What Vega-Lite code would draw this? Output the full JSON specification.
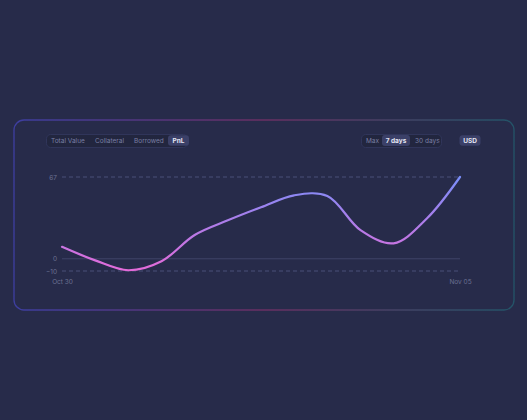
{
  "$schema": "https://vega.github.io/schema/vega-lite/v6.json",
  "width": 500,
  "height": 190,
  "autosize": {"type": "none"},
  "padding": {"left": 14, "top": 120, "right": 13, "bottom": 110},
  "background": "#272b4a",
  "config": {
    "view": {"stroke": null},
    "font": "Inter",
    "axisX": {"offset": -34, "domain": false, "ticks": false, "grid": false, "labelPadding": 2, "labelFontSize": 6.5, "labelColor": "#6c7192", "labelFont": "Inter", "labelFlush": false},
    "axisY": {"offset": -48, "domain": false, "ticks": false, "grid": false, "labelPadding": 5.5, "labelFontSize": 6.5, "labelColor": "#6c7192", "labelFont": "Inter"}
  },
  "datasets": {
    "series": [
      {"date": "2024-10-30T00:00:00", "value": 9.8},
      {"date": "2024-10-30T12:00:00", "value": -1.3},
      {"date": "2024-10-31T00:00:00", "value": -9.4},
      {"date": "2024-10-31T12:00:00", "value": -2.0},
      {"date": "2024-11-01T00:00:00", "value": 19.5},
      {"date": "2024-11-01T12:00:00", "value": 31.5},
      {"date": "2024-11-02T00:00:00", "value": 42.2},
      {"date": "2024-11-02T12:00:00", "value": 52.0},
      {"date": "2024-11-03T00:00:00", "value": 51.5},
      {"date": "2024-11-03T12:00:00", "value": 23.5},
      {"date": "2024-11-04T00:00:00", "value": 12.7},
      {"date": "2024-11-04T12:00:00", "value": 33.0},
      {"date": "2024-11-05T00:00:00", "value": 67}
    ],
    "levels": [
      {"level": 67, "start": "2024-10-30T00:00:00", "end": "2024-11-05T00:00:00"},
      {"level": 0, "start": "2024-10-30T00:00:00", "end": "2024-11-05T00:00:00"},
      {"level": -10, "start": "2024-10-30T00:00:00", "end": "2024-11-05T00:00:00"}
    ],
    "metrics": [{"metric": "Total Value"}, {"metric": "Collateral"}, {"metric": "Borrowed"}, {"metric": "PnL"}],
    "selectedMetric": [{"metric": "PnL"}],
    "periods": [{"period": "Max"}, {"period": "7 days"}, {"period": "30 days"}],
    "selectedPeriod": [{"period": "7 days"}],
    "divider": [{"divider": "divider"}],
    "currencies": [{"currency": "USD"}]
  },
  "layer": [
    {
      "data": {"values": [{}]},
      "mark": {
        "type": "rect",
        "cornerRadius": 10,
        "fill": null,
        "strokeWidth": 1.3,
        "stroke": {"gradient": "linear", "x1": 0, "y1": 0, "x2": 1, "y2": 0,
          "stops": [{"offset": 0, "color": "#3d3ea0"}, {"offset": 0.5, "color": "#6a2f63"}, {"offset": 1, "color": "#235468"}]}
      },
      "encoding": {}
    },
    {
      "data": {"name": "levels"},
      "mark": {"type": "rule", "strokeWidth": 1},
      "encoding": {
        "x": {"field": "start", "type": "temporal", "title": null},
        "x2": {"field": "end"},
        "y": {"field": "level", "type": "quantitative", "title": null},
        "color": {"condition": {"test": "datum.level === 0", "value": "#3f4468"}, "value": "#4b5078"},
        "strokeDash": {"condition": {"test": "datum.level === 0", "value": [1, 0]}, "value": [4, 3]}
      }
    },
    {
      "data": {"name": "series"},
      "mark": {
        "type": "line",
        "interpolate": "catmull-rom",
        "strokeWidth": 2.2,
        "strokeCap": "round",
        "stroke": {"gradient": "linear", "x1": 0, "y1": 1, "x2": 0, "y2": 0,
          "stops": [{"offset": 0, "color": "#e36bd9"}, {"offset": 1, "color": "#7a8ef9"}]}
      },
      "encoding": {
        "x": {"field": "date", "type": "temporal", "title": null,
          "scale": {"range": [48, 446]},
          "axis": {"format": "%b %d", "values": [{"year": 2024, "month": 10, "date": 30}, {"year": 2024, "month": 11, "date": 5}]}},
        "y": {"field": "value", "type": "quantitative", "title": null,
          "scale": {"domain": [-10, 67], "range": [151, 57], "nice": false, "zero": false},
          "axis": {"values": [-10, 0, 67]}}
      }
    },
    {
      "data": {"name": "metrics"},
      "mark": {"type": "point", "opacity": 0},
      "encoding": {
        "stroke": {"field": "metric", "type": "nominal",
          "scale": {"domain": ["Total Value", "Collateral", "Borrowed", "PnL"], "range": ["#000000", "#000000", "#000000", "#000000"]},
          "legend": {
            "title": null, "orient": "none", "legendX": 32, "legendY": 14, "direction": "horizontal",
            "fillColor": "#22263f", "strokeColor": "#30355a", "cornerRadius": 4, "padding": 1, "columnPadding": 6,
            "symbolSize": 121, "symbolOpacity": 0, "symbolStrokeWidth": 0, "labelOffset": -7,
            "labelFont": "Inter", "labelFontSize": 6.5, "labelColor": "#7a7fa3"
          }
        }
      }
    },
    {
      "data": {"name": "selectedMetric"},
      "mark": {"type": "point", "opacity": 0, "filled": true},
      "encoding": {
        "fill": {"field": "metric", "type": "nominal",
          "scale": {"domain": ["PnL"], "range": ["#3b4068"]},
          "legend": {
            "title": null, "orient": "none", "legendX": 154, "legendY": 10, "padding": 0,
            "symbolType": "M-0.71,-0.5L0.71,-0.5Q1,-0.5 1,-0.21L1,0.21Q1,0.5 0.71,0.5L-0.71,0.5Q-1,0.5 -1,0.21L-1,-0.21Q-1,-0.5 -0.71,-0.5Z",
            "symbolSize": 441, "symbolOpacity": 1, "symbolStrokeWidth": 0,
            "labelAlign": "center", "labelOffset": -10.5,
            "labelFont": "Inter", "labelFontSize": 6.5, "labelColor": "#e6e7f4", "labelFontWeight": 700
          }
        }
      }
    },
    {
      "data": {"name": "periods"},
      "mark": {"type": "point", "opacity": 0},
      "encoding": {
        "shape": {"field": "period", "type": "nominal",
          "scale": {"domain": ["Max", "7 days", "30 days"]},
          "legend": {
            "title": null, "orient": "none", "legendX": 347, "legendY": 14, "direction": "horizontal",
            "fillColor": "#22263f", "strokeColor": "#30355a", "cornerRadius": 4, "padding": 1, "columnPadding": 3,
            "symbolSize": 121, "symbolOpacity": 0, "symbolStrokeWidth": 0, "labelOffset": -7,
            "labelFont": "Inter", "labelFontSize": 6.5, "labelColor": "#7a7fa3"
          }
        }
      }
    },
    {
      "data": {"name": "selectedPeriod"},
      "mark": {"type": "point", "opacity": 0, "filled": true},
      "encoding": {
        "color": {"field": "period", "type": "nominal",
          "scale": {"domain": ["7 days"], "range": ["#3b4068"]},
          "legend": {
            "title": null, "orient": "none", "legendX": 368, "legendY": 6.5, "padding": 0,
            "symbolType": "M-0.79,-0.39L0.79,-0.39Q1,-0.39 1,-0.18L1,0.18Q1,0.39 0.79,0.39L-0.79,0.39Q-1,0.39 -1,0.18L-1,-0.18Q-1,-0.39 -0.79,-0.39Z",
            "symbolSize": 784, "symbolOpacity": 1, "symbolStrokeWidth": 0,
            "labelAlign": "center", "labelOffset": -14,
            "labelFont": "Inter", "labelFontSize": 6.5, "labelColor": "#e6e7f4", "labelFontWeight": 700
          }
        }
      }
    },
    {
      "data": {"name": "divider"},
      "mark": {"type": "point", "opacity": 0, "filled": false, "color": "#3a3f62"},
      "encoding": {
        "size": {"field": "divider", "type": "ordinal",
          "scale": {"domain": ["divider"], "range": [169]},
          "legend": {
            "title": null, "orient": "none", "legendX": 431.5, "legendY": 14, "padding": 0,
            "symbolType": "M0,-1L0,1", "symbolOpacity": 1, "symbolStrokeWidth": 1, "symbolStrokeColor": "#3a3f62",
            "labelExpr": "''"
          }
        }
      }
    },
    {
      "data": {"name": "currencies"},
      "mark": {"type": "point", "opacity": 0, "filled": true, "color": "#3b4068"},
      "encoding": {
        "strokeDash": {"field": "currency", "type": "nominal",
          "scale": {"domain": ["USD"], "range": [[1, 0]]},
          "legend": {
            "title": null, "orient": "none", "legendX": 445.5, "legendY": 10, "padding": 0,
            "symbolType": "M-0.71,-0.5L0.71,-0.5Q1,-0.5 1,-0.21L1,0.21Q1,0.5 0.71,0.5L-0.71,0.5Q-1,0.5 -1,0.21L-1,-0.21Q-1,-0.5 -0.71,-0.5Z",
            "symbolSize": 441, "symbolOpacity": 1, "symbolStrokeWidth": 0, "symbolFillColor": "#3b4068",
            "labelAlign": "center", "labelOffset": -10.5,
            "labelFont": "Inter", "labelFontSize": 6.5, "labelColor": "#e6e7f4", "labelFontWeight": 700
          }
        }
      }
    }
  ]
}
